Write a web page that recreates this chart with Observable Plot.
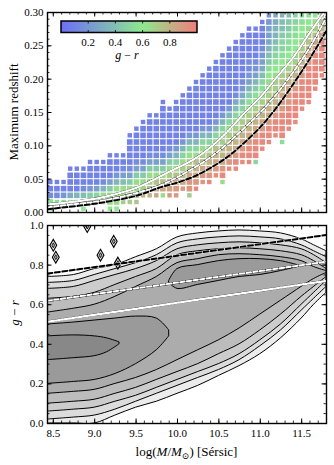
<!DOCTYPE html>
<html><head><meta charset="utf-8">
<script src="https://cdn.jsdelivr.net/npm/d3@7"></script>
<script src="https://cdn.jsdelivr.net/npm/@observablehq/plot@0.6"></script>
<style>
body{margin:0;background:#fff;}
#chart{width:334px;height:465px;position:relative;background:#fff;}
#chart svg{display:block;}
</style></head><body><div id="chart"></div>
<script>
// ---------- shared axis data ----------
const massDomain = [8.43, 11.8];
const massMajorTicks = [8.5, 9.0, 9.5, 10.0, 10.5, 11.0, 11.5];
const massMinorTicks = [8.5,8.6,8.7,8.8,8.9,9.0,9.1,9.2,9.3,9.4,9.5,9.6,9.7,9.8,9.9,10.0,10.1,10.2,10.3,10.4,10.5,10.6,10.7,10.8,10.9,11.0,11.1,11.2,11.3,11.4,11.5,11.6,11.7];
const zMajorTicks = [0, 0.05, 0.10, 0.15, 0.20, 0.25, 0.30];
const zMinorTicks = [0,0.01,0.02,0.03,0.04,0.05,0.06,0.07,0.08,0.09,0.10,0.11,0.12,0.13,0.14,0.15,0.16,0.17,0.18,0.19,0.20,0.21,0.22,0.23,0.24,0.25,0.26,0.27,0.28,0.29,0.30];
const grMajorTicks = [0, 0.2, 0.4, 0.6, 0.8, 1.0];
const grMinorTicks = [0,0.05,0.1,0.15,0.2,0.25,0.3,0.35,0.4,0.45,0.5,0.55,0.6,0.65,0.7,0.75,0.8,0.85,0.9,0.95,1.0];
const colorbarTicks = [0.2, 0.4, 0.6, 0.8];

// ---------- top panel: binned mean g-r (one string per mass bin, redshift bins upward) ----------
const binMassStart = 8.47, binMassStep = 0.08, binZStart = 0.005, binZStep = 0.01;
const colourCodes = "abcdefghijklmnopqrstu"; // a=0.00 ... u=1.00 (step 0.05)
const massColumns = [
"mldcc",".ldcc",".mecc",".mgcccc",".nhcccc","mnidccc",".njecccc",".nkfcccc",".nnhdccc",
"mnnjfcccc","mnnnheccc",".onnifdcc",".oonjfdccccc",".ponnjfdccccc","..qonjfdcccccc",
"..qponjfdcccccc","..rqpnjfdcccccc","..nrpnjfdcccccccc","..srqonjfdcccccc","..ssrpnkheccccccc",
"...srponkheccccccc","..ossrponkheccccccc","...tsrqpnkhecccccccc","....ssrponkhecccccccc",
"....tsrqpnkheccccccccc",".....tsrqpnkheccccccccc","....ntsrqponkheccccccccc",
"......tsrqponkheccccccccc","......ttsrqponkigdcccccccc",".......ttsrqponkigedccccccc",
".......tttsrqponljhfeddccccc",".......ktttsrqponljhfedccccc",".........tttsrqponlkigfedcccc",
"..........tttsrqpoonmljihgffee","...........tttsrqpoonmlkjihhgg","..........lttttssrqponmlkkjiih",
"............ttttssrqponmllkjji",".............tttttsrqponmmllkk","...............tttttsrqponmmll",
"................ttttttsrqponml","..................ttttttsrponm","....................ttttttrqpo"
];

// curves in the top panel (log M, z_max)
const dottedMass = [8.43, 8.8, 9.1, 9.5, 9.9, 10.2, 10.4, 10.6, 10.8, 11.0, 11.2, 11.4, 11.6, 11.8];
const dottedZ    = [0.012, 0.017, 0.023, 0.037, 0.061, 0.080, 0.098, 0.121, 0.148, 0.173, 0.203, 0.233, 0.270, 0.305];
const whiteDashMass = [8.43, 8.8, 9.1, 9.5, 9.8, 10.0, 10.2, 10.4, 10.6, 10.8, 11.0, 11.2, 11.4, 11.6, 11.8];
const whiteDashZ    = [0.008, 0.013, 0.018, 0.029, 0.041, 0.053, 0.067, 0.083, 0.103, 0.126, 0.150, 0.178, 0.211, 0.248, 0.293];
const blackDashMass = [8.43, 8.8, 9.1, 9.5, 9.8, 10.0, 10.2, 10.4, 10.6, 10.8, 11.0, 11.2, 11.4, 11.6, 11.8];
const blackDashZ    = [0.005, 0.010, 0.015, 0.025, 0.038, 0.045, 0.054, 0.067, 0.083, 0.104, 0.128, 0.158, 0.193, 0.231, 0.273];

// ---------- bottom panel: contour levels (lower / upper g-r edge of each level) ----------
const levelMass = [8.43, 8.75, 9.0, 9.25, 9.5, 9.75, 10.0, 10.25, 10.5, 10.75, 11.0, 11.25, 11.5, 11.65, 11.8];
const level1Low  = [0.00,0.00,0.00,0.04,0.08,0.11,0.15,0.19,0.24,0.29,0.35,0.43,0.53,0.60,0.66];
const level1High = [0.74,0.75,0.78,0.80,0.84,0.88,0.94,0.96,0.97,0.975,0.97,0.96,0.93,0.90,0.87];
const level2Low  = [0.02,0.03,0.04,0.07,0.11,0.15,0.19,0.23,0.27,0.32,0.39,0.47,0.57,0.63,0.69];
const level2High = [0.71,0.72,0.75,0.78,0.81,0.85,0.91,0.93,0.94,0.945,0.94,0.93,0.90,0.87,0.84];
const level3Low  = [0.06,0.07,0.08,0.11,0.14,0.18,0.22,0.26,0.30,0.35,0.42,0.50,0.60,0.66,0.72];
const level3High = [0.68,0.69,0.72,0.75,0.78,0.82,0.88,0.90,0.91,0.915,0.91,0.90,0.88,0.85,0.81];
const level4Low  = [0.10,0.11,0.12,0.15,0.18,0.22,0.26,0.30,0.35,0.40,0.47,0.55,0.64,0.69,0.74];
const level4High = [0.63,0.64,0.66,0.70,0.74,0.78,0.85,0.87,0.88,0.885,0.88,0.87,0.85,0.82,0.78];
const level5Low  = [0.15,0.16,0.17,0.20,0.23,0.27,0.32,0.37,0.42,0.48,0.55,0.62,0.69,0.73,0.76];
const level5High = [0.56,0.58,0.60,0.64,0.69,0.74,0.81,0.83,0.85,0.855,0.85,0.84,0.82,0.79,0.77];
const blueCoreMass = [8.43, 8.75, 9.0, 9.25, 9.5, 9.75, 9.9];
const blueCoreLow  = [0.20, 0.21, 0.22, 0.25, 0.30, 0.37, 0.44];
const blueCoreHigh = [0.50, 0.51, 0.52, 0.53, 0.54, 0.53, 0.47];
const redCoreMass = [9.9, 10.0, 10.25, 10.5, 10.75, 11.0, 11.25, 11.45];
const redCoreLow  = [0.71, 0.68, 0.70, 0.72, 0.74, 0.75, 0.77, 0.79];
const redCoreHigh = [0.72, 0.78, 0.80, 0.82, 0.83, 0.83, 0.82, 0.80];
const blueInnerMass = [8.43, 8.75, 9.0, 9.15, 9.3];
const blueInnerLow  = [0.32, 0.33, 0.34, 0.36, 0.40];
const blueInnerHigh = [0.44, 0.445, 0.44, 0.43, 0.41];
const noiseMass = [8.50, 8.53, 8.91, 9.23, 9.07, 9.28];
const noiseGr   = [0.90, 0.84, 0.995, 0.92, 0.85, 0.81];
// lines in the bottom panel
const lineMass = [8.43, 11.8];
const bottomDottedGr = [0.514, 0.720];
const bottomWhiteDashGr = [0.620, 0.817];
const bottomBlackDashGr = [0.757, 0.952];

// ---------- build tables ----------
const cells = [];
massColumns.forEach((s, i) => {
  for (let j = 0; j < s.length; j++) {
    const ch = s[j];
    if (ch === ".") continue;
    const below = j > 0 ? s[j - 1] : ".";
    const above = j + 1 < s.length ? s[j + 1] : ".";
    cells.push({
      mass: binMassStart + i * binMassStep,
      z: binZStart + j * binZStep,
      gr: colourCodes.indexOf(ch) * 0.05,
      edge: below === "." || above === "."
    });
  }
});
const zip = (xs, ys) => xs.map((x, i) => ({x, y: ys[i]}));
const band = (xs, lo, hi) => xs.map((x, i) => ({x, lo: lo[i], hi: hi[i]}));

const font = "'Liberation Serif', 'DejaVu Serif', serif";
const W = 334, ML = 47, MR = 8;

function frameTicks(innerW, innerH, xMaj, xMin, yMaj, yMin) {
  const M = 4.5, m = 2.5, s = {stroke: "black"};
  return [
    Plot.ruleX(xMin, {x: d => d, insetTop: innerH - m, ...s, strokeWidth: 0.8}),
    Plot.ruleX(xMin, {x: d => d, insetBottom: innerH - m, ...s, strokeWidth: 0.8}),
    Plot.ruleX(xMaj, {x: d => d, insetTop: innerH - M, ...s, strokeWidth: 1}),
    Plot.ruleX(xMaj, {x: d => d, insetBottom: innerH - M, ...s, strokeWidth: 1}),
    Plot.ruleY(yMin, {y: d => d, insetRight: innerW - m, ...s, strokeWidth: 0.8}),
    Plot.ruleY(yMin, {y: d => d, insetLeft: innerW - m, ...s, strokeWidth: 0.8}),
    Plot.ruleY(yMaj, {y: d => d, insetRight: innerW - M, ...s, strokeWidth: 1}),
    Plot.ruleY(yMaj, {y: d => d, insetLeft: innerW - M, ...s, strokeWidth: 1}),
    Plot.frame({stroke: "black", strokeWidth: 1.4})
  ];
}

function styledLine(data, kind, opts = {}) {
  const base = {x: "x", y: "y", curve: "catmull-rom", clip: true, ...opts};
  if (kind === "dotted") return [
    Plot.line(data, {...base, stroke: "black", strokeWidth: 2.3}),
    Plot.line(data, {...base, stroke: "white", strokeWidth: 2.3, strokeDasharray: "1.4,1.4"})
  ];
  if (kind === "whiteDash") return [
    Plot.line(data, {...base, stroke: "black", strokeWidth: 2.3}),
    Plot.line(data, {...base, stroke: "white", strokeWidth: 2.0, strokeDasharray: "4.5,2.2"})
  ];
  return [
    Plot.line(data, {...base, stroke: "white", strokeWidth: 2.5}),
    Plot.line(data, {...base, stroke: "black", strokeWidth: 2.0, strokeDasharray: "5,2.5"})
  ];
}

// ---------- top plot ----------
const topH = 218, topMT = 12, topMB = 6;
const topPlot = Plot.plot({
  width: W, height: topH, marginLeft: ML, marginRight: MR, marginTop: topMT, marginBottom: topMB,
  style: {fontFamily: font, fontSize: "11px", background: "white", color: "black"},
  x: {domain: massDomain, axis: null},
  y: {domain: [0, 0.30], axis: null},
  color: {type: "linear", domain: [0, 0.6, 1], range: ["#6e6ef6", "#8ee88f", "#f27d7d"], interpolate: "rgb"},
  marks: [
    Plot.rect(cells, {
      x1: d => d.mass - (d.edge ? 0.027 : 0.034), x2: d => d.mass + (d.edge ? 0.027 : 0.034),
      y1: d => d.z - (d.edge ? 0.0033 : 0.0042), y2: d => d.z + (d.edge ? 0.0033 : 0.0042),
      fill: "gr", clip: true
    }),
    ...styledLine(zip(dottedMass, dottedZ), "dotted"),
    ...styledLine(zip(whiteDashMass, whiteDashZ), "whiteDash"),
    ...styledLine(zip(blackDashMass, blackDashZ), "blackDash"),
    ...frameTicks(W - ML - MR, topH - topMT - topMB, massMajorTicks, massMinorTicks, zMajorTicks, zMinorTicks),
    Plot.axisY({ticks: zMajorTicks, tickSize: 0, tickPadding: 4, tickFormat: d3.format(".2f"), label: null})
  ]
});

// colour bar drawn with the plot's own colour scale
(function () {
  const svg = d3.select(topPlot);
  const cs = topPlot.scale("color");
  const colorOf = v => (cs && cs.apply ? cs.apply(v) : d3.piecewise(d3.interpolateRgb, ["#6e6ef6", "#8ee88f", "#f27d7d"])(v));
  const x0 = 61, x1 = 197, y0 = 21, y1 = 32.5;
  const defs = svg.append("defs");
  const g = defs.append("linearGradient").attr("id", "cbgrad").attr("x1", "0").attr("x2", "1").attr("y1", "0").attr("y2", "0");
  for (let k = 0; k <= 40; k++) g.append("stop").attr("offset", k / 40).attr("stop-color", colorOf(k / 40));
  svg.append("rect").attr("x", x0).attr("y", y0).attr("width", x1 - x0).attr("height", y1 - y0)
    .attr("fill", "url(#cbgrad)").attr("stroke", "black").attr("stroke-width", 1.5);
  colorbarTicks.forEach(v => {
    const x = x0 + v * (x1 - x0);
    svg.append("line").attr("x1", x).attr("x2", x).attr("y1", y0).attr("y2", y0 + 2.5).attr("stroke", "black").attr("stroke-width", 0.8);
    svg.append("line").attr("x1", x).attr("x2", x).attr("y1", y1 - 2.5).attr("y2", y1).attr("stroke", "black").attr("stroke-width", 0.8);
    svg.append("text").attr("x", x).attr("y", 45.5).attr("text-anchor", "middle")
      .attr("font-family", font).attr("font-size", 11).text(d3.format(".1f")(v));
  });
  const lab = svg.append("text").attr("x", 127).attr("y", 58.5).attr("text-anchor", "middle")
    .attr("font-family", font).attr("font-size", 12);
  lab.append("tspan").attr("font-style", "italic").text("g");
  lab.append("tspan").text(" \u2212 ");
  lab.append("tspan").attr("font-style", "italic").text("r");
  svg.append("text").attr("transform", "translate(13,112) rotate(-90)").attr("text-anchor", "middle")
    .attr("dominant-baseline", "central").attr("font-family", font).attr("font-size", 13).text("Maximum redshift");
})();

// ---------- bottom plot ----------
const botH = 247, botMT = 7, botMB = 42;
const grays = ["#ececec", "#dcdcdc", "#cccccc", "#bcbcbc", "#acacac", "#9a9a9a", "#888888"];
const levelBands = [
  band(levelMass, level1Low, level1High),
  band(levelMass, level2Low, level2High),
  band(levelMass, level3Low, level3High),
  band(levelMass, level4Low, level4High),
  band(levelMass, level5Low, level5High)
];
const bottomPlot = Plot.plot({
  width: W, height: botH, marginLeft: ML, marginRight: MR, marginTop: botMT, marginBottom: botMB,
  style: {fontFamily: font, fontSize: "11px", background: "white", color: "black"},
  x: {domain: massDomain},
  y: {domain: [0, 1]},
  marks: [
    ...levelBands.map((b, k) => Plot.areaY(b, {x: "x", y1: "lo", y2: "hi", fill: grays[k], stroke: "black", strokeWidth: 1, curve: "catmull-rom", clip: true})),
    Plot.areaY(band(blueCoreMass, blueCoreLow, blueCoreHigh), {x: "x", y1: "lo", y2: "hi", fill: grays[5], stroke: "black", strokeWidth: 1, curve: "catmull-rom", clip: true}),
    Plot.areaY(band(redCoreMass, redCoreLow, redCoreHigh), {x: "x", y1: "lo", y2: "hi", fill: grays[5], stroke: "black", strokeWidth: 1, curve: "catmull-rom", clip: true}),
    Plot.areaY(band(blueInnerMass, blueInnerLow, blueInnerHigh), {x: "x", y1: "lo", y2: "hi", fill: grays[6], stroke: "black", strokeWidth: 1, curve: "catmull-rom", clip: true}),
    Plot.dot(zip(noiseMass, noiseGr), {x: "x", y: "y", symbol: "diamond", r: 3.6, fill: "#e6e6e6", stroke: "black", strokeWidth: 1.1, clip: true}),
    Plot.dot(zip(noiseMass, noiseGr), {x: "x", y: "y", symbol: "diamond", r: 1.5, fill: "#a0a0a0", stroke: "black", strokeWidth: 0.8, clip: true}),
    ...styledLine(zip(lineMass, bottomBlackDashGr), "blackDash", {curve: "linear"}),
    ...styledLine(zip(lineMass, bottomWhiteDashGr), "whiteDash", {curve: "linear"}),
    ...styledLine(zip(lineMass, bottomDottedGr), "dotted", {curve: "linear"}),
    ...frameTicks(W - ML - MR, botH - botMT - botMB, massMajorTicks, massMinorTicks, grMajorTicks, grMinorTicks),
    Plot.axisX({ticks: massMajorTicks, tickSize: 0, tickPadding: 6, tickFormat: d3.format(".1f"), label: null}),
    Plot.axisY({ticks: grMajorTicks, tickSize: 0, tickPadding: 4, tickFormat: d3.format(".1f"), label: null})
  ]
});
(function () {
  const svg = d3.select(bottomPlot);
  const yl = svg.append("text").attr("transform", "translate(14,95) rotate(-90)").attr("text-anchor", "middle")
    .attr("dominant-baseline", "central").attr("font-family", font).attr("font-size", 13);
  yl.append("tspan").attr("font-style", "italic").text("g");
  yl.append("tspan").text(" \u2212 ");
  yl.append("tspan").attr("font-style", "italic").text("r");
  const xl = svg.append("text").attr("x", 186.5).attr("y", 238).attr("text-anchor", "middle")
    .attr("font-family", font).attr("font-size", 13);
  xl.append("tspan").text("log(");
  xl.append("tspan").attr("font-style", "italic").text("M");
  xl.append("tspan").text("/");
  xl.append("tspan").attr("font-style", "italic").text("M");
  xl.append("tspan").attr("font-size", 9).attr("dy", 3).text("\u2299");
  xl.append("tspan").attr("dy", -3).text(") [S\u00e9rsic]");
})();

const root = document.getElementById("chart");
root.appendChild(topPlot);
root.appendChild(bottomPlot);
</script></body></html>
